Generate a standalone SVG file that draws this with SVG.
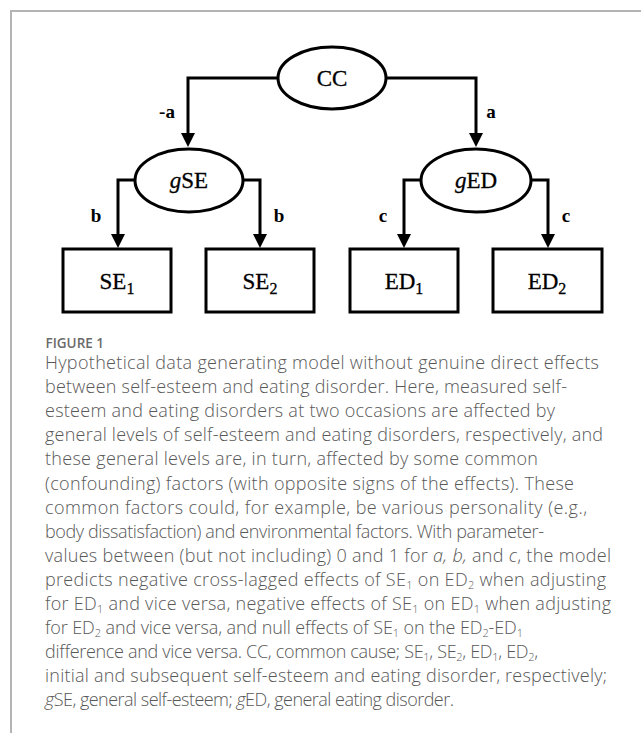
<svg xmlns="http://www.w3.org/2000/svg" width="641" height="733" viewBox="0 0 641 733">
<defs>
<marker id="arr" viewBox="0 0 14 14" refX="6" refY="7" markerWidth="14" markerHeight="14" markerUnits="userSpaceOnUse" orient="auto">
<path d="M0,0 L14,7 L0,14 z" fill="#000"/>
</marker>
<style>
.ell{fill:#fff;stroke:#000;stroke-width:3}
.box{fill:#fff;stroke:#000;stroke-width:3}
.ln{fill:none;stroke:#000;stroke-width:3;marker-end:url(#arr)}
.nt{font-family:"Liberation Serif","Times New Roman",serif;font-size:23px;fill:#000;stroke:#000;stroke-width:0.3;text-anchor:middle}
.lb{font-family:"Liberation Serif","Times New Roman",serif;font-size:19px;font-weight:bold;fill:#000;text-anchor:middle}
.cap{font-family:"Open Sans","Liberation Sans",sans-serif;font-size:18px;font-weight:300;fill:#585858}
.fig{font-family:"Open Sans","Liberation Sans",sans-serif;font-size:13.5px;font-weight:600;fill:#6a6a6a}
.s{font-size:11px}
</style>
</defs>
<rect width="641" height="733" fill="#fff"/>
<path d="M11,733 V11 H641" fill="none" stroke="#b4b4b4" stroke-width="2"/>
<g id="connectors">
<path class="ln" d="M278,78 H188 V139"/>
<path class="ln" d="M386,78 H476 V139"/>
<path class="ln" d="M135,180 H118 V240"/>
<path class="ln" d="M243,180 H260 V240"/>
<path class="ln" d="M421,180 H404 V240"/>
<path class="ln" d="M531,180 H548 V240"/>
<text class="lb" x="167" y="118">-a</text>
<text class="lb" x="491" y="118">a</text>
<text class="lb" x="96" y="222">b</text>
<text class="lb" x="279" y="222">b</text>
<text class="lb" x="383" y="222">c</text>
<text class="lb" x="566" y="222">c</text>
</g>
<g id="CC"><ellipse class="ell" cx="332" cy="78" rx="54" ry="31"/><text class="nt" x="332" y="86">CC</text></g>
<g id="gSE"><ellipse class="ell" cx="189" cy="180.5" rx="54" ry="31.5"/><text class="nt" x="189" y="188"><tspan font-style="italic">g</tspan>SE</text></g>
<g id="gED"><ellipse class="ell" cx="476" cy="180.5" rx="55" ry="31.5"/><text class="nt" x="476" y="188"><tspan font-style="italic">g</tspan>ED</text></g>
<g id="SE1"><rect class="box" x="63" y="249" width="108" height="63"/><text class="nt" x="117" y="289">SE<tspan font-size="16" dy="5">1</tspan></text></g>
<g id="SE2"><rect class="box" x="206" y="249" width="108" height="63"/><text class="nt" x="260" y="289">SE<tspan font-size="16" dy="5">2</tspan></text></g>
<g id="ED1"><rect class="box" x="350" y="249" width="108" height="63"/><text class="nt" x="404" y="289">ED<tspan font-size="16" dy="5">1</tspan></text></g>
<g id="ED2"><rect class="box" x="493" y="249" width="109" height="63"/><text class="nt" x="547" y="289">ED<tspan font-size="16" dy="5">2</tspan></text></g>
<g id="caption">
<text class="fig" x="45.5" y="347.5">FIGURE 1</text>
<text class="cap" x="45" y="369" textLength="554">Hypothetical data generating model without genuine direct effects</text>
<text class="cap" x="45" y="393.1" textLength="522">between self-esteem and eating disorder. Here, measured self-</text>
<text class="cap" x="45" y="417.2" textLength="510">esteem and eating disorders at two occasions are affected by</text>
<text class="cap" x="45" y="441.3" textLength="558">general levels of self-esteem and eating disorders, respectively, and</text>
<text class="cap" x="45" y="465.4" textLength="493">these general levels are, in turn, affected by some common</text>
<text class="cap" x="45" y="489.5" textLength="529">(confounding) factors (with opposite signs of the effects). These</text>
<text class="cap" x="45" y="513.6" textLength="542">common factors could, for example, be various personality (e.g.,</text>
<text class="cap" x="45" y="537.7" textLength="499">body dissatisfaction) and environmental factors. With parameter-</text>
<text class="cap" x="45" y="561.8" textLength="566">values between (but not including) 0 and 1 for <tspan font-style="italic">a, b,</tspan> and <tspan font-style="italic">c</tspan>, the model</text>
<text class="cap" x="45" y="585.9" textLength="561">predicts negative cross-lagged effects of SE<tspan class="s" dy="3">1</tspan><tspan dy="-3"> on ED</tspan><tspan class="s" dy="3">2</tspan><tspan dy="-3"> when adjusting</tspan></text>
<text class="cap" x="45" y="610" textLength="566">for ED<tspan class="s" dy="3">1</tspan><tspan dy="-3"> and vice versa, negative effects of SE</tspan><tspan class="s" dy="3">1</tspan><tspan dy="-3"> on ED</tspan><tspan class="s" dy="3">1</tspan><tspan dy="-3"> when adjusting</tspan></text>
<text class="cap" x="45" y="634.1" textLength="478">for ED<tspan class="s" dy="3">2</tspan><tspan dy="-3"> and vice versa, and null effects of SE</tspan><tspan class="s" dy="3">1</tspan><tspan dy="-3"> on the ED</tspan><tspan class="s" dy="3">2</tspan><tspan dy="-3">-ED</tspan><tspan class="s" dy="3">1</tspan></text>
<text class="cap" x="45" y="658.2" textLength="493">difference and vice versa. CC, common cause; SE<tspan class="s" dy="3">1</tspan><tspan dy="-3">, SE</tspan><tspan class="s" dy="3">2</tspan><tspan dy="-3">, ED</tspan><tspan class="s" dy="3">1</tspan><tspan dy="-3">, ED</tspan><tspan class="s" dy="3">2</tspan><tspan dy="-3">,</tspan></text>
<text class="cap" x="45" y="682.3" textLength="562">initial and subsequent self-esteem and eating disorder, respectively;</text>
<text class="cap" x="45" y="706.4" textLength="409"><tspan font-style="italic">g</tspan>SE, general self-esteem; <tspan font-style="italic">g</tspan>ED, general eating disorder.</text>
</g>
</svg>
